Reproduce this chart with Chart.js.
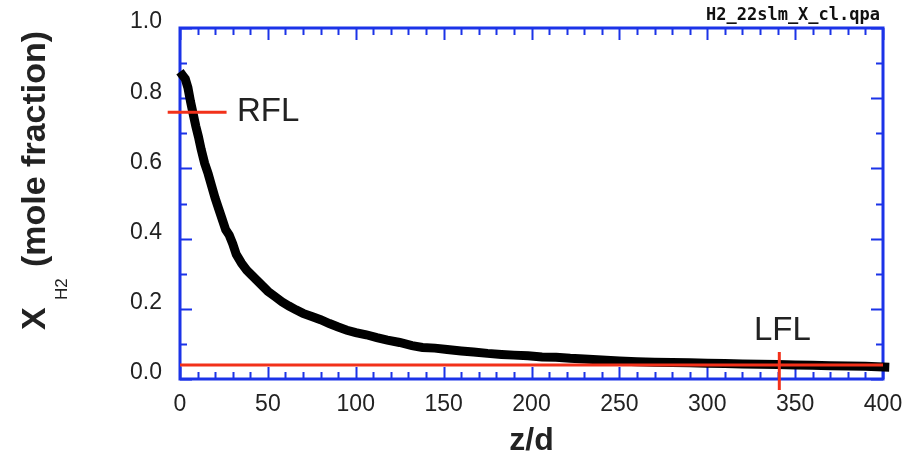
<!DOCTYPE html>
<html>
<head>
<meta charset="utf-8">
<script src="https://cdn.jsdelivr.net/npm/chart.js@4.4.1/dist/chart.umd.min.js"></script>
<style>
  html, body { margin: 0; padding: 0; background: #fff; }
  #wrap { width: 907px; height: 453px; }
</style>
</head>
<body>
<div id="wrap"><canvas id="xChart" width="907" height="453"></canvas></div>
<script>
// --- measured H2 mole fraction along the jet axis ---
const zd = [1.5, 3, 4.5, 6, 7.5, 9, 10.5, 12, 14, 16, 18, 20, 22, 24, 26, 28, 30, 32, 35, 38,
            41, 44, 47, 50, 54, 58, 62, 66, 70, 75, 80, 85, 90, 95, 100, 106, 112, 118, 125, 132,
            138, 145, 152, 160, 167, 175, 183, 190, 198, 206, 214, 222, 230, 240, 250, 260, 270, 280, 290, 300,
            310, 320, 330, 340, 350, 360, 370, 380, 390, 401];
const xH2 = [0.865, 0.855, 0.83, 0.79, 0.755, 0.72, 0.69, 0.655, 0.615, 0.585, 0.55, 0.515, 0.485, 0.455, 0.425, 0.41, 0.385, 0.355, 0.33, 0.31,
             0.295, 0.28, 0.265, 0.25, 0.235, 0.22, 0.208, 0.197, 0.187, 0.178, 0.169, 0.158, 0.148, 0.139, 0.132, 0.126, 0.118, 0.111, 0.104, 0.095,
             0.09, 0.088, 0.084, 0.08, 0.077, 0.073, 0.07, 0.068, 0.066, 0.063, 0.062, 0.059, 0.057, 0.054, 0.051, 0.049, 0.048, 0.047, 0.046, 0.045,
             0.044, 0.043, 0.042, 0.041, 0.040, 0.039, 0.038, 0.037, 0.036, 0.034];

// flammability limits
const rflValue = 0.76;     // rich limit
const lflValue = 0.04;     // lean limit
const lflZd = 341;         // z/d where the centreline reaches LFL

// axis ticks
const xMajorTicks = [0, 50, 100, 150, 200, 250, 300, 350, 400];
const xMinorStep = 10;
const yMajorTicks = [0, 0.2, 0.4, 0.6, 0.8, 1.0];
const yMinorStep = 0.1;

const BLUE = '#1b33e8';
const RED = '#f2311a';
const TEXT = '#222';
const SANS = '"Liberation Sans", Arial, sans-serif';

const curvePoints = zd.map((z, i) => ({ x: z, y: xH2[i] }));

// frame with inward tick marks on all four sides
const framePlugin = {
    id: 'frameTicks',
    beforeDatasetsDraw(chart) {
        const { ctx, chartArea: a, scales: { x, y } } = chart;
        ctx.save();
        ctx.strokeStyle = BLUE;
        ctx.lineWidth = 2;
        ctx.beginPath();
        for (let v = 0; v <= 400 + 1e-6; v += xMinorStep) {
            const len = xMajorTicks.includes(Math.round(v)) ? 12 : 7;
            const px = Math.round(x.getPixelForValue(v)) + 0.5;
            ctx.moveTo(px, a.bottom); ctx.lineTo(px, a.bottom - len);
            ctx.moveTo(px, a.top); ctx.lineTo(px, a.top + len);
        }
        for (let k = 0; k <= 10; k++) {
            const v = k * yMinorStep;
            const len = yMajorTicks.some(t => Math.abs(t - v) < 1e-6) ? 12 : 7;
            const py = Math.round(y.getPixelForValue(v)) + 0.5;
            ctx.moveTo(a.left, py); ctx.lineTo(a.left + len, py);
            ctx.moveTo(a.right, py); ctx.lineTo(a.right - len, py);
        }
        ctx.stroke();
        ctx.lineWidth = 3;
        ctx.strokeRect(a.left, a.top, a.right - a.left, a.bottom - a.top);
        ctx.restore();
    },
    afterDraw(chart) {
        const { ctx, chartArea: a, scales: { x, y } } = chart;
        ctx.save();
        ctx.fillStyle = TEXT;

        // x title
        ctx.font = 'bold 32px ' + SANS;
        ctx.textAlign = 'center';
        ctx.textBaseline = 'alphabetic';
        ctx.fillText('z/d', (a.left + a.right) / 2, 450);

        // y title, rotated, with subscript
        ctx.save();
        ctx.translate(45, 330);
        ctx.rotate(-Math.PI / 2);
        ctx.textAlign = 'left';
        ctx.font = 'bold 34px ' + SANS;
        ctx.fillText('X', 0, 0);
        ctx.font = '17px ' + SANS;
        ctx.fillText('H2', 30, 22);
        ctx.font = 'bold 34px ' + SANS;
        ctx.fillText('(mole fraction)', 63, 0);
        ctx.restore();

        // limit labels
        ctx.font = '33px ' + SANS;
        ctx.textAlign = 'left';
        ctx.textBaseline = 'middle';
        ctx.fillText('RFL', 237, y.getPixelForValue(rflValue));
        ctx.textAlign = 'center';
        ctx.textBaseline = 'alphabetic';
        ctx.fillText('LFL', x.getPixelForValue(lflZd) + 3, 340);

        // data file tag
        ctx.fillStyle = '#111';
        ctx.font = 'bold 17px "DejaVu Sans Mono", monospace';
        ctx.textAlign = 'right';
        ctx.fillText('H2_22slm_X_cl.qpa', 880, 20);
        ctx.restore();
    }
};

new Chart(document.getElementById('xChart'), {
    type: 'line',
    data: {
        datasets: [
            {
                data: [{ x: 0, y: lflValue }, { x: 400, y: lflValue }],
                borderColor: RED, borderWidth: 3, pointRadius: 0, order: 0
            },
            {
                data: [{ x: lflZd, y: 0.077 }, { x: lflZd, y: -0.031 }],
                borderColor: RED, borderWidth: 3, pointRadius: 0, order: 0, clip: false
            },
            {
                data: [{ x: -7, y: rflValue }, { x: 26.5, y: rflValue }],
                borderColor: RED, borderWidth: 3, pointRadius: 0, order: 0, clip: false
            },
            {
                data: curvePoints,
                borderColor: '#000', borderWidth: 9, pointRadius: 0,
                tension: 0, borderJoinStyle: 'miter', borderCapStyle: 'square', order: 1, clip: false
            }
        ]
    },
    options: {
        responsive: false,
        animation: false,
        events: [],
        layout: { padding: { top: 28, right: 24, left: 0, bottom: 0 } },
        plugins: { legend: { display: false }, tooltip: { enabled: false } },
        scales: {
            x: {
                type: 'linear', min: 0, max: 400,
                grid: { display: false, drawTicks: false },
                border: { display: false },
                ticks: {
                    stepSize: 50, padding: 12, color: TEXT,
                    font: { size: 23, family: SANS }
                },
                afterFit(scale) {
                    scale.height = 74;
                    scale.paddingLeft = 0;
                    scale.paddingRight = 0;
                }
            },
            y: {
                min: 0, max: 1,
                grid: { display: false, drawTicks: false },
                border: { display: false },
                ticks: {
                    stepSize: 0.2, padding: 18, color: TEXT, labelOffset: -6,
                    font: { size: 23, family: SANS },
                    callback: v => v.toFixed(1)
                },
                afterFit(scale) {
                    scale.width = 180;
                    scale.paddingTop = 0;
                    scale.paddingBottom = 0;
                }
            }
        }
    },
    plugins: [framePlugin]
});
</script>
</body>
</html>
